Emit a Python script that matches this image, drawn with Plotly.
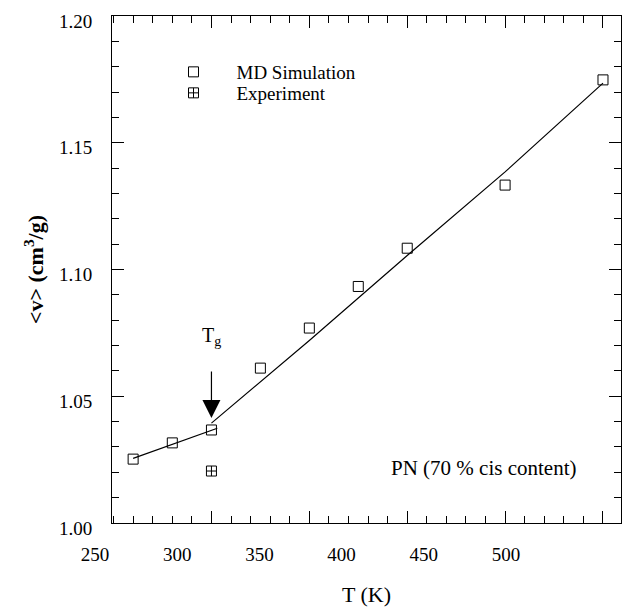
import plotly.graph_objects as go

# MD simulation data (T in K, specific volume in cm^3/g)
T_md = [260, 280, 300, 325, 350, 375, 400, 450, 500]
v_md = [1.0252, 1.0316, 1.0367, 1.0611, 1.0769, 1.0933, 1.1084, 1.1333, 1.1748]

# Experiment
T_exp = [300]
v_exp = [1.0205]

# Fitted lines (glassy and rubbery regimes)
T_glass = [260, 303]
v_glass = [1.0255, 1.0374]
T_rubber = [300, 350, 400, 450, 500]
v_rubber = [1.0394, 1.0720, 1.1055, 1.1385, 1.1735]

# Tick labels
x_tick_labels = [250, 300, 350, 400, 450, 500]
y_tick_vals = [1.00, 1.05, 1.10, 1.15, 1.20]

FONT = "Liberation Serif"
L, R, T, B = 90, 5, 16, 84
W, H = 626, 607
pw = W - L - R
ph = H - T - B

fig = go.Figure()
fig.add_trace(go.Scatter(x=T_glass, y=v_glass, mode="lines",
                         line=dict(color="black", width=1.2), showlegend=False, hoverinfo="skip"))
fig.add_trace(go.Scatter(x=T_rubber, y=v_rubber, mode="lines",
                         line=dict(color="black", width=1.2), showlegend=False, hoverinfo="skip"))
fig.add_trace(go.Scatter(x=T_md, y=v_md, mode="markers", name="MD Simulation", legend="legend",
                         marker=dict(symbol="square-open", size=10, color="black",
                                     line=dict(width=1, color="black"))))
fig.add_trace(go.Scatter(x=T_exp, y=v_exp, mode="markers", name="Experiment", legend="legend2",
                         marker=dict(symbol="square-cross-open", size=10, color="black",
                                     line=dict(width=1, color="black"))))
# invisible trace for the tick-label axis
fig.add_trace(go.Scatter(x=[x_tick_labels[0]], y=[1.1], xaxis="x2", yaxis="y", mode="markers",
                         marker=dict(opacity=0), showlegend=False, hoverinfo="skip"))

fig.add_annotation(x=300, y=1.0414, xref="x", yref="y", text="", showarrow=True,
                   ax=0, ay=-48, arrowhead=2, arrowsize=3, arrowwidth=1.2, arrowcolor="black")
fig.add_annotation(x=300, y=1.0734, xref="x", yref="y", text="T<sub>g</sub>", showarrow=False,
                   font=dict(family=FONT, size=20, color="black"))
fig.add_annotation(x=439, y=1.0217, xref="x", yref="y", text="PN (70 % cis content)",
                   showarrow=False, font=dict(family=FONT, size=21, color="black"))

leg_common = dict(xanchor="left", yanchor="middle", bgcolor="rgba(0,0,0,0)", itemwidth=76,
                  font=dict(family=FONT, size=19, color="black"))

fig.update_layout(
    width=W, height=H,
    margin=dict(l=L, r=R, t=T, b=B, autoexpand=False),
    paper_bgcolor="white", plot_bgcolor="rgba(0,0,0,0)",
    font=dict(family=FONT, color="black", size=18),
    showlegend=True,
    legend=dict(x=(150.5 - L) / pw, y=1 - (72 - T) / ph, **leg_common),
    legend2=dict(x=(150.5 - L) / pw, y=1 - (93 - T) / ph, **leg_common),
    xaxis=dict(domain=[(112 - L) / pw, 1], range=[249.2, 509.2], showticklabels=False,
               tickvals=[300, 350, 400, 450, 500], ticks="inside", ticklen=12, tickcolor="black",
               minor=dict(dtick=10, ticks="inside", ticklen=7, tickcolor="black"),
               showline=True, linecolor="black", linewidth=1, mirror="ticks",
               showgrid=False, zeroline=False, automargin=False,
               title=dict(text="T (K)", font=dict(family=FONT, size=22), standoff=64)),
    xaxis2=dict(domain=[(95 - L) / pw, (506 - L) / pw], range=[250, 500], anchor="y",
                tickvals=x_tick_labels, ticktext=[str(v) for v in x_tick_labels],
                showline=False, ticks="", showgrid=False, zeroline=False, automargin=False,
                ticklabelstandoff=18, tickfont=dict(family=FONT, size=19)),
    yaxis=dict(range=[1.00, 1.20], tickvals=y_tick_vals,
               ticktext=["%.2f" % v for v in y_tick_vals],
               ticks="inside", ticklen=12, tickcolor="black",
               minor=dict(dtick=0.01, ticks="inside", ticklen=7, tickcolor="black"),
               showline=True, linecolor="black", linewidth=1, mirror="ticks",
               showgrid=False, zeroline=False, ticklabelstandoff=15, ticklabelshift=5,
               tickfont=dict(family=FONT, size=19), automargin=False,
               title=dict(text="<b>&lt;v&gt; (cm<sup>3</sup>/g)</b>", font=dict(family=FONT, size=22),
                          standoff=9)),
)

fig.write_html("out.html")
